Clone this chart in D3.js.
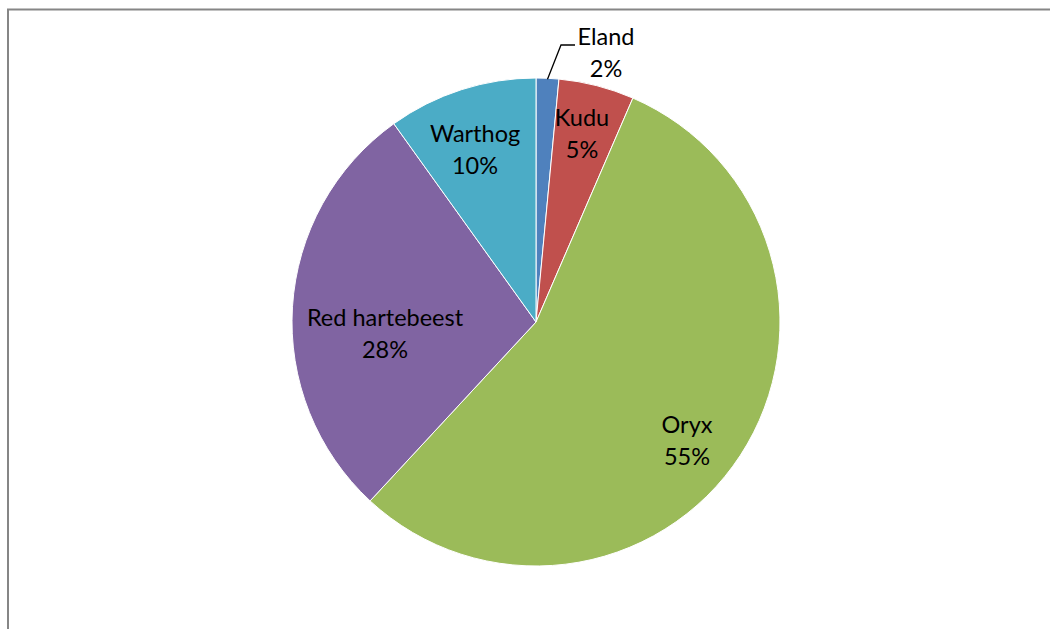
<!DOCTYPE html>
<html>
<head>
<meta charset="utf-8">
<script src="https://cdn.jsdelivr.net/npm/d3@7"></script>
<style>
  html, body { margin: 0; padding: 0; background: #fff; }
  svg { display: block; }
  text { font-family: Lato, "Open Sans", "Liberation Sans", sans-serif; fill: #000; }
</style>
</head>
<body>
<svg id="chart" width="1050" height="629"></svg>
<script>
// Share of each species (percent of total)
const species = ["Eland", "Kudu", "Oryx", "Red hartebeest", "Warthog"];
const shares = [1.5, 5.0, 55.4, 28.2, 9.9];
const colors = ["#4F81BD", "#C0504D", "#9BBB59", "#8064A2", "#4BACC6"];

// Label anchor points (centre of the two-line label) for each slice
const labelPos = [[606, 52], [582, 133], [687, 440], [385, 333], [475, 149]];

const W = 1050, H = 629;
const cx = 536, cy = 322, R = 244;

const svg = d3.select("#chart");

// Chart area frame (extends beyond the visible page at right and bottom)
svg.append("rect")
  .attr("x", 8).attr("y", 9.5)
  .attr("width", W + 20).attr("height", H + 20)
  .attr("fill", "#fff")
  .attr("stroke", "#868686")
  .attr("stroke-width", 2);

const data = species.map((name, i) => ({ name, value: shares[i], color: colors[i], pos: labelPos[i] }));

const pie = d3.pie().value(d => d.value).sort(null);
const arc = d3.arc().innerRadius(0).outerRadius(R);
const arcs = pie(data);

const g = svg.append("g").attr("transform", `translate(${cx},${cy})`);

g.selectAll("path")
  .data(arcs)
  .join("path")
  .attr("d", arc)
  .attr("fill", d => d.data.color)
  .attr("stroke", "#fff")
  .attr("stroke-width", 1);

// Leader line for the small Eland slice
const eland = arcs[0];
const midA = (eland.startAngle + eland.endAngle) / 2;
const ex = cx + Math.sin(midA) * R, ey = cy - Math.cos(midA) * R;
svg.append("polyline")
  .attr("points", `${ex},${ey + 1} ${561},${45} ${575},${45}`)
  .attr("fill", "none")
  .attr("stroke", "#000")
  .attr("stroke-width", 1.3);

// Labels: name and rounded percentage
const labels = svg.selectAll("g.label")
  .data(arcs)
  .join("g")
  .attr("class", "label")
  .attr("transform", d => `translate(${d.data.pos[0]},${d.data.pos[1]})`);

labels.append("text")
  .attr("text-anchor", "middle")
  .attr("y", -7)
  .attr("font-size", 23.5)
  .text(d => d.data.name);

labels.append("text")
  .attr("text-anchor", "middle")
  .attr("y", 25)
  .attr("font-size", 23.5)
  .text(d => Math.round(d.data.value) + "%");
</script>
</body>
</html>
